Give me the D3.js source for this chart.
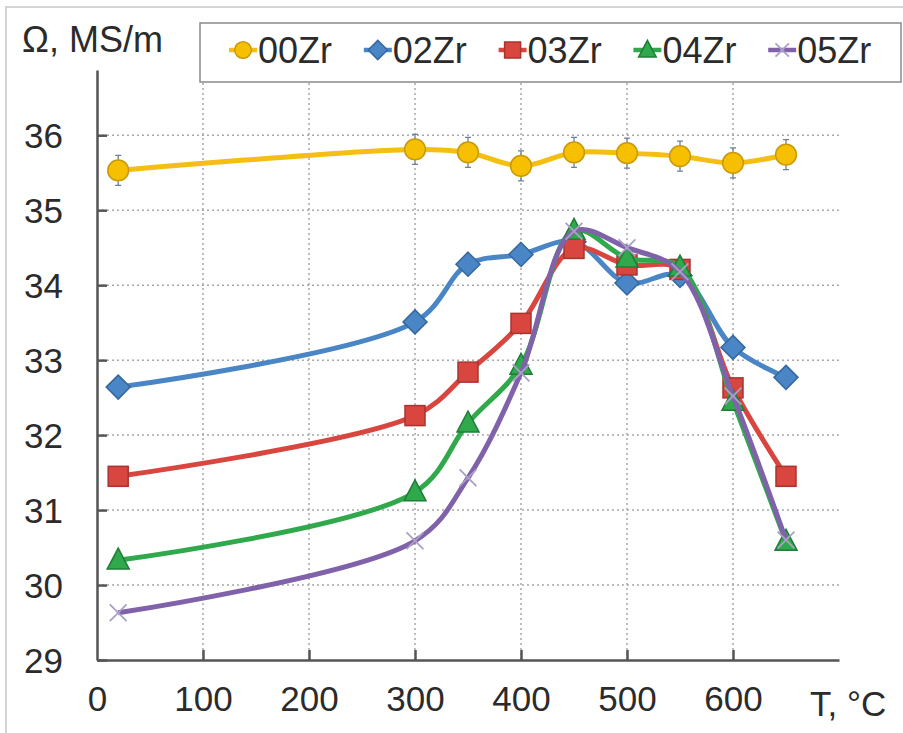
<!DOCTYPE html>
<html>
<head>
<meta charset="utf-8">
<script src="https://cdn.jsdelivr.net/npm/d3@7"></script>
<style>
  body { margin: 0; background: #fff; }
  text { font-family: "Liberation Sans", Arial, sans-serif; fill: #2b2b2b; }
</style>
</head>
<body>
<div class="chart"></div>
<script>
// temperatures, degC
var temps = [20, 300, 350, 400, 450, 500, 550, 600, 650];

var s00Zr = [35.53, 35.81, 35.77, 35.59, 35.77, 35.76, 35.72, 35.63, 35.74];
var s02Zr = [32.64, 33.51, 34.28, 34.41, 34.58, 34.03, 34.13, 33.17, 32.77];
var s03Zr = [31.45, 32.26, 32.84, 33.49, 34.49, 34.27, 34.21, 32.63, 31.45];
var s04Zr = [30.33, 31.24, 32.16, 32.93, 34.73, 34.36, 34.24, 32.45, 30.58];
var s05Zr = [29.63, 30.59, 31.43, 32.83, 34.72, 34.50, 34.18, 32.52, 30.60];
var err00Zr = 0.2;

var seriesNames = ["00Zr", "02Zr", "03Zr", "04Zr", "05Zr"];
var xTicks = [0, 100, 200, 300, 400, 500, 600];
var yTicks = [29, 30, 31, 32, 33, 34, 35, 36];

var series = [
    { name: "00Zr", values: s00Zr, line: "#f4be12", fill: "#f6c000", stroke: "#c99a08", marker: "circle" },
    { name: "02Zr", values: s02Zr, line: "#4a86c6", fill: "#4a86c6", stroke: "#36689f", marker: "diamond" },
    { name: "03Zr", values: s03Zr, line: "#d8463f", fill: "#d8463f", stroke: "#a8342f", marker: "square" },
    { name: "04Zr", values: s04Zr, line: "#2fa94c", fill: "#2fa94c", stroke: "#1f7d37", marker: "triangle" },
    { name: "05Zr", values: s05Zr, line: "#7f62a9", fill: "none", stroke: "#aaa0c6", marker: "cross" }
];

var W = 903, H = 733;

var svg = d3.select(".chart").append("svg")
    .attr("width", W)
    .attr("height", H);

svg.append("rect").attr("width", W).attr("height", H).attr("fill", "#fff");

// light frame of the figure
svg.append("path")
    .attr("d", "M6," + H + "V7H" + W)
    .attr("fill", "none")
    .attr("stroke", "#d4d4d4")
    .attr("stroke-width", 2);

var x = d3.scaleLinear().domain([0, 700]).range([97, 839]);
var y = d3.scaleLinear().domain([29, 36.87]).range([660, 70]);

// grid
svg.append("g").selectAll("line")
    .data(yTicks.slice(1))
    .enter().append("line")
    .attr("x1", x(0)).attr("x2", x(700))
    .attr("y1", function (d) { return y(d); })
    .attr("y2", function (d) { return y(d); })
    .attr("stroke", "#a8a8a8")
    .attr("stroke-width", 1.5)
    .attr("stroke-dasharray", "2,3");

svg.append("g").selectAll("line")
    .data(xTicks.slice(1))
    .enter().append("line")
    .attr("y1", y(29)).attr("y2", y(36.87))
    .attr("x1", function (d) { return x(d); })
    .attr("x2", function (d) { return x(d); })
    .attr("stroke", "#a8a8a8")
    .attr("stroke-width", 1.5)
    .attr("stroke-dasharray", "2,3");

// axes
var yAxis = svg.append("g")
    .attr("transform", "translate(" + x(0) + ",0)")
    .call(d3.axisLeft(y).tickValues(yTicks).tickSize(-10).tickPadding(34).tickSizeOuter(0));

var xAxis = svg.append("g")
    .attr("transform", "translate(0," + y(29) + ")")
    .call(d3.axisBottom(x).tickValues(xTicks).tickSize(-10).tickPadding(26).tickSizeOuter(0));

[yAxis, xAxis].forEach(function (ax) {
    ax.select(".domain").attr("stroke", "#555").attr("stroke-width", 2.5);
    ax.selectAll(".tick line").attr("stroke", "#555").attr("stroke-width", 2.5);
    ax.selectAll(".tick text")
        .style("font-size", "35px")
        .style("font-family", "'Liberation Sans', Arial, sans-serif")
        .attr("fill", "#2b2b2b");
});
yAxis.selectAll(".tick text").attr("dy", "0.36em");
xAxis.selectAll(".tick text").attr("dy", "0.71em");
xAxis.selectAll(".tick").filter(function (d) { return d === 0; }).select("line").remove();

svg.append("text")
    .attr("x", 22).attr("y", 52)
    .style("font-size", "36px")
    .text("Ω, MS/m");

svg.append("text")
    .attr("x", 810).attr("y", 716)
    .style("font-size", "35px")
    .text("T, °C");

// markers
function drawMarker(g, type, s, size) {
    var m;
    if (type == "circle") {
        m = g.append("circle").attr("r", size * 0.52);
    }
    else if (type == "diamond") {
        var d = size * 0.6;
        m = g.append("path").attr("d", "M0," + (-d) + "L" + d + ",0L0," + d + "L" + (-d) + ",0Z");
    }
    else if (type == "square") {
        var h = size * 0.5;
        m = g.append("rect").attr("x", -h).attr("y", -h).attr("width", 2 * h).attr("height", 2 * h);
    }
    else if (type == "triangle") {
        var t = size * 0.55;
        m = g.append("path").attr("d", "M0," + (-t * 1.1) + "L" + t + "," + (t * 0.8) + "L" + (-t) + "," + (t * 0.8) + "Z");
    }
    else {
        var c = size * 0.42;
        m = g.append("path").attr("d", "M" + (-c) + "," + (-c) + "L" + c + "," + c + "M" + (-c) + "," + c + "L" + c + "," + (-c));
        m.attr("stroke-width", 1.8);
    }
    m.attr("fill", s.fill).attr("stroke", s.stroke);
    if (type != "cross") m.attr("stroke-width", 1.5);
    return m;
}

var line = d3.line()
    .x(function (d) { return x(d.t); })
    .y(function (d) { return y(d.v); })
    .curve(d3.curveCatmullRom.alpha(0.5));

// error bars for 00Zr
var eb = svg.append("g");
temps.forEach(function (t, i) {
    var cx = x(t), y1 = y(s00Zr[i] + err00Zr), y2 = y(s00Zr[i] - err00Zr);
    eb.append("path")
        .attr("d", "M" + cx + "," + y1 + "V" + y2 + "M" + (cx - 3) + "," + y1 + "H" + (cx + 3) + "M" + (cx - 3) + "," + y2 + "H" + (cx + 3))
        .attr("stroke", "#6f7f99")
        .attr("stroke-width", 1.3)
        .attr("fill", "none");
});

series.forEach(function (s) {
    var pts = temps.map(function (t, i) { return { t: t, v: s.values[i] }; });
    svg.append("path")
        .datum(pts)
        .attr("d", line)
        .attr("fill", "none")
        .attr("stroke", s.line)
        .attr("stroke-width", 5)
        .attr("stroke-linejoin", "round");
    var mg = svg.append("g");
    pts.forEach(function (p) {
        var g = mg.append("g").attr("transform", "translate(" + x(p.t) + "," + y(p.v) + ")");
        drawMarker(g, s.marker, s, 20);
    });
});

// legend
var lg = svg.append("g");
lg.append("rect")
    .attr("x", 200).attr("y", 23)
    .attr("width", 701).attr("height", 59)
    .attr("fill", "#fff")
    .attr("stroke", "#8a8a8a")
    .attr("stroke-width", 1.5);

series.forEach(function (s, i) {
    var cx = 243 + i * 134.8, cy = 50;
    lg.append("line")
        .attr("x1", cx - 14).attr("x2", cx + 14)
        .attr("y1", cy).attr("y2", cy)
        .attr("stroke", s.line)
        .attr("stroke-width", 4.5);
    var g = lg.append("g").attr("transform", "translate(" + cx + "," + cy + ")");
    drawMarker(g, s.marker, s, 16);
    lg.append("text")
        .attr("x", cx + 15).attr("y", cy + 13)
        .style("font-size", "36px")
        .text(seriesNames[i]);
});
</script>
</body>
</html>
